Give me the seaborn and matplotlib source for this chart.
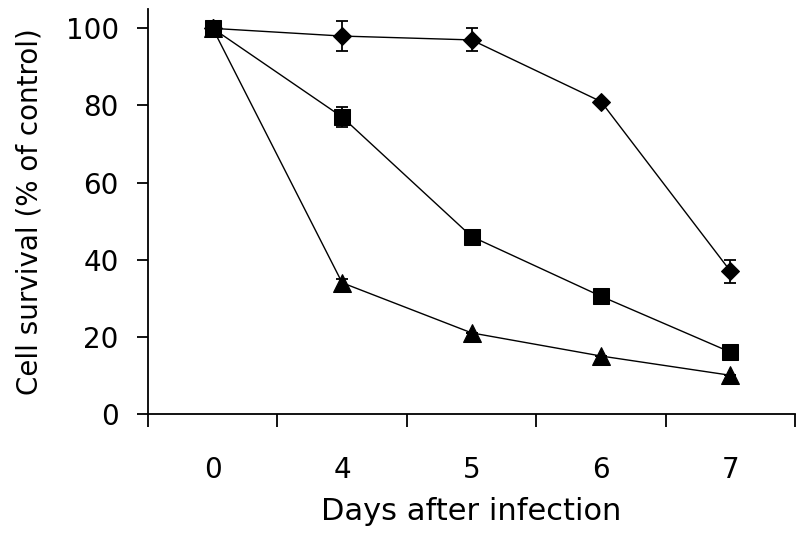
import numpy as np
import pandas as pd
import matplotlib
matplotlib.use('Agg')
import matplotlib.pyplot as plt
import seaborn as sns
from matplotlib.ticker import FixedLocator

sns.set_style('white')
plt.rcParams['font.family'] = ['DejaVu Sans']
plt.rcParams['text.color'] = 'black'
plt.rcParams['axes.labelcolor'] = 'black'
plt.rcParams['xtick.color'] = 'black'
plt.rcParams['ytick.color'] = 'black'

# Data
days = ['0', '4', '5', '6', '7']
diamond = [100, 98, 97, 81, 37]
diamond_err = [0, 4, 3, 0, 3]
triangle = [100, 34, 21, 15, 10]
triangle_err = [0, 1, 0, 0, 0]
square = [100, 77, 46, 30.5, 16]
square_err = [0, 2.7, 0, 0, 0]

# drawing order: square last so it sits on top at day 0
series = [('diamond', diamond, diamond_err, 'D', 8.7),
          ('triangle', triangle, triangle_err, '^', 12.5),
          ('square', square, square_err, 's', 12)]

fig = plt.figure(figsize=(8, 5.34), dpi=100)
ax = fig.add_axes([0.185, 0.225, 0.809, 0.758])

for name, vals, errs, marker, ms in series:
    df = pd.DataFrame({'pos': np.arange(len(days)), 'value': vals, 'err': errs})
    sns.lineplot(data=df, x='pos', y='value', color='black', marker=marker,
                 markersize=ms, markeredgecolor='black', linewidth=1, ax=ax)
    ax.errorbar(df['pos'], df['value'], yerr=df['err'], fmt='none',
                ecolor='black', elinewidth=1.3, capsize=4.5, capthick=1.3)

ax.set_xlim(-0.5, 4.5)
ax.set_ylim(0, 105)
ax.set_yticks([0, 20, 40, 60, 80, 100])
ax.set_xticks(range(len(days)))
ax.set_xticklabels(days)
ax.xaxis.set_minor_locator(FixedLocator(np.arange(-0.5, 5, 1)))
ax.tick_params(axis='x', which='major', length=0, pad=30, labelsize=20)
ax.tick_params(axis='x', which='minor', length=9, width=1.3, direction='out', bottom=True)
ax.tick_params(axis='y', which='major', length=8, width=1.3, direction='out', left=True,
               labelsize=20, pad=13)

for side in ['top', 'right']:
    ax.spines[side].set_visible(False)
for side in ['left', 'bottom']:
    ax.spines[side].set_color('black')
    ax.spines[side].set_linewidth(1.3)

ax.set_xlabel('Days after infection', fontsize=22, labelpad=10)
ax.set_ylabel('Cell survival (% of control)', fontsize=20, labelpad=16)

fig.savefig('out.png', dpi=100)
